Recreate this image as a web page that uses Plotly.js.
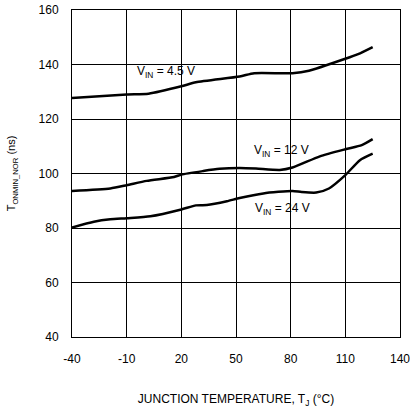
<!DOCTYPE html>
<html>
<head>
<meta charset="utf-8">
<script src="https://cdn.plot.ly/plotly-3.0.1.min.js"></script>
<style>
  html, body { margin: 0; padding: 0; background: #fff; }
  #chart { width: 410px; height: 408px; }
</style>
</head>
<body>
<div id="chart"></div>
<script>
// junction temperature (°C) and T_ONMIN_NOR (ns)
var temp45 = [-40, -10, 2, 20, 28, 52, 60, 81, 90, 110, 117, 125];
var ton45  = [127.7, 129.0, 129.3, 132.0, 133.5, 135.6, 136.8, 136.8, 137.7, 142.1, 143.8, 146.4];

var temp12 = [-40, -19, -10, 1, 16, 20, 32, 41, 52, 61, 74, 81, 96, 110, 119, 125];
var ton12  = [93.6, 94.5, 95.7, 97.3, 98.7, 99.6, 100.9, 101.7, 102.0, 101.8, 101.3, 102.2, 106.3, 108.9, 110.4, 112.6];

var temp24 = [-40, -28, -19, -10, 3, 20, 28, 34, 45, 52, 65, 81, 86, 94, 101, 110, 118, 125];
var ton24  = [80.2, 82.3, 83.2, 83.6, 84.3, 86.8, 88.3, 88.4, 89.8, 91.0, 92.7, 93.6, 93.2, 93.0, 94.5, 99.4, 104.9, 107.3];

var xTicks = [-40, -10, 20, 50, 80, 110, 140];
var xTickText = ['-40', '-10', '20', '50', '80', '110', '140'];
var yTicks = [40, 60, 80, 100, 120, 140, 160];

var labels = [
  {text: 'V<sub>IN</sub> = 4.5 V', x: 11.5, y: 137.2},
  {text: 'V<sub>IN</sub> = 12 V', x: 75, y: 108.3},
  {text: 'V<sub>IN</sub> = 24 V', x: 75.5, y: 86.8}
];

function curve(x, y) {
  return {
    x: x, y: y, type: 'scatter', mode: 'lines',
    line: {color: '#000', width: 2.5, shape: 'spline', smoothing: 0.6},
    hoverinfo: 'skip', showlegend: false
  };
}

var data = [curve(temp45, ton45), curve(temp12, ton12), curve(temp24, ton24)];

var font = {family: 'Liberation Sans, Arial, sans-serif', size: 12, color: '#000'};

var layout = {
  width: 410, height: 408,
  margin: {l: 72, r: 10, t: 10, b: 71},
  paper_bgcolor: '#fff', plot_bgcolor: '#fff',
  font: font,
  showlegend: false,
  xaxis: {
    range: [-40, 140], tickmode: 'array', tickvals: xTicks, ticktext: xTickText,
    showgrid: true, gridcolor: '#000', gridwidth: 1,
    showline: true, linecolor: '#000', linewidth: 1, mirror: true,
    zeroline: false, ticks: '', ticklabelstandoff: 11,
    ticklabeloverflow: 'allow',
    tickfont: font, automargin: false,
    title: {text: 'JUNCTION TEMPERATURE, T<sub>J</sub> (°C)', font: font, standoff: 31}
  },
  yaxis: {
    range: [40, 160], tickmode: 'array', tickvals: yTicks,
    showgrid: true, gridcolor: '#000', gridwidth: 1,
    showline: true, linecolor: '#000', linewidth: 1, mirror: true,
    zeroline: false, ticks: '', ticklabelstandoff: 10,
    ticklabeloverflow: 'allow',
    tickfont: font, automargin: false,
    title: {text: 'T<sub>ONMIN_NOR</sub> (ns)', font: {family: font.family, size: 11, color: '#000'}, standoff: 20}
  },
  annotations: labels.map(function (l) {
    return {x: l.x, y: l.y, xref: 'x', yref: 'y', text: l.text, showarrow: false,
            font: font, bgcolor: 'rgba(0,0,0,0)'};
  })
};

Plotly.newPlot('chart', data, layout, {displayModeBar: false, staticPlot: true});
</script>
</body>
</html>
